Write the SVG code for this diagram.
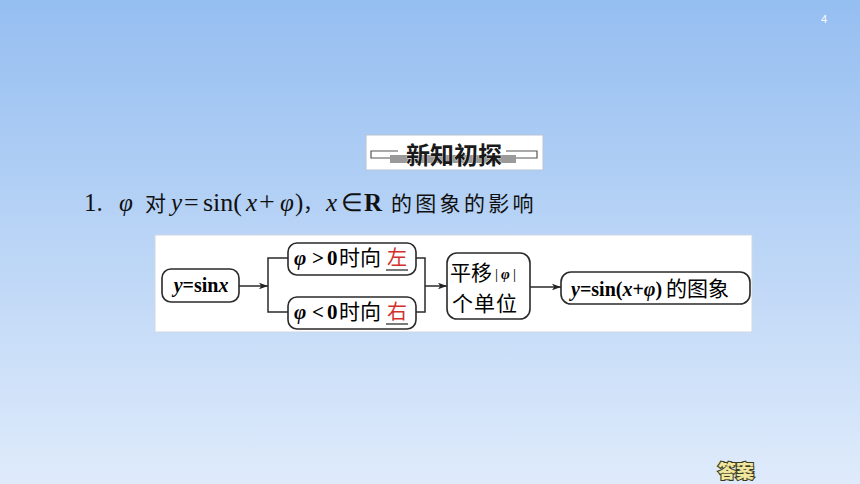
<svg xmlns="http://www.w3.org/2000/svg" width="860" height="484" viewBox="0 0 860 484">
<defs>
<linearGradient id="bg" x1="0" y1="0" x2="0" y2="1">
<stop offset="0" stop-color="#95bef1"/>
<stop offset="1" stop-color="#dfebfb"/>
</linearGradient>
<marker id="ah" viewBox="0 0 10 10" refX="10" refY="5" markerWidth="9" markerHeight="9" markerUnits="userSpaceOnUse" orient="auto">
<path d="M0,1.5 L10,5 L0,8.5 L2.5,5 Z" fill="#222"/>
</marker>
<style>
.box{fill:#fff;stroke:#2a2a2a;stroke-width:1.6}
.ln{fill:none;stroke:#2a2a2a;stroke-width:1.5}
.m{font-family:"Liberation Serif",serif;font-weight:bold}
.s{font-family:"Liberation Serif",serif}
.i{font-style:italic}
.c{font-family:"Noto Sans CJK SC",sans-serif}
.red{fill:#d2302b}
</style>
</defs>
<rect x="0" y="0" width="860" height="484" fill="url(#bg)"/>
<text x="824" y="23" font-family="Liberation Sans,sans-serif" font-size="11" fill="#fff" text-anchor="middle">4</text>

<g id="header">
<rect x="366" y="135" width="177" height="35" fill="#fff" stroke="#b8c4d4" stroke-width="1"/>
<rect x="390" y="155" width="126" height="8" fill="#9a9a9a"/>
<path d="M398,151 H371 V158 H390 M506,151 H537 V158 H516" fill="none" stroke="#555" stroke-width="1.2"/>
<text x="454" y="164" font-family="Noto Sans CJK SC,sans-serif" font-weight="bold" font-size="24" text-anchor="middle" fill="#1a1a1a" stroke="#fff" stroke-width="0.6" paint-order="stroke">新知初探</text>
</g>

<g id="title" font-size="25" fill="#111">
<text y="211"><tspan x="84" class="s">1.</tspan><tspan x="119" class="s i">φ</tspan><tspan x="145" class="c" font-size="21">对</tspan><tspan x="171" class="s i">y</tspan><tspan x="184" class="s" font-size="26">=</tspan><tspan x="203" class="s" font-size="26">sin(</tspan><tspan x="246" class="s i">x</tspan><tspan x="259" class="s" font-size="28">+</tspan><tspan x="280" class="s i">φ</tspan><tspan x="295" class="s">)</tspan><tspan x="303" class="c" font-size="20">，</tspan><tspan x="326" class="s i">x</tspan><tspan x="341" class="s">∈</tspan><tspan x="364" class="s" font-weight="bold">R</tspan><tspan x="391" class="c" font-size="21" letter-spacing="3.3">的图象的影响</tspan></text>
</g>

<rect id="panel" x="155" y="235" width="597" height="97" fill="#fff" stroke="#d0d8e4" stroke-width="1"/>

<g id="connectors">
<line class="ln" x1="239" y1="286" x2="268" y2="286" marker-end="url(#ah)"/>
<path class="ln" d="M288,258 H268 V312 H288"/>
<path class="ln" d="M416,258 H425 V312 H416"/>
<line class="ln" x1="425" y1="286" x2="447" y2="286" marker-end="url(#ah)"/>
<line class="ln" x1="530" y1="287" x2="561" y2="287" marker-end="url(#ah)"/>
</g>

<g id="n1">
<rect class="box" x="162" y="269" width="77" height="33" rx="9"/>
<text x="201" y="292" font-size="20" text-anchor="middle" class="m"><tspan class="i">y</tspan>=sin<tspan class="i">x</tspan></text>
</g>

<g id="n2">
<rect class="box" x="288" y="243" width="128" height="32" rx="9"/>
<text y="265" font-size="21"><tspan x="294" class="m i">φ</tspan><tspan x="312" class="m">&gt;</tspan><tspan x="327" class="m">0</tspan><tspan x="339" class="c" font-size="21">时向</tspan><tspan x="387" class="c red" font-size="20">左</tspan></text>
<line x1="386" y1="270" x2="408" y2="270" stroke="#222" stroke-width="1.2"/>
</g>

<g id="n3">
<rect class="box" x="288" y="297" width="128" height="32" rx="9"/>
<text y="319" font-size="21"><tspan x="294" class="m i">φ</tspan><tspan x="312" class="m">&lt;</tspan><tspan x="327" class="m">0</tspan><tspan x="339" class="c" font-size="21">时向</tspan><tspan x="387" class="c red" font-size="20">右</tspan></text>
<line x1="386" y1="324" x2="408" y2="324" stroke="#222" stroke-width="1.2"/>
</g>

<g id="n4">
<rect class="box" x="447" y="253" width="83" height="66" rx="10"/>
<text x="450" y="280" font-size="21" class="c">平移</text>
<text y="279" font-size="15"><tspan x="495" class="s">|</tspan><tspan x="501" class="m i">φ</tspan><tspan x="513" class="s">|</tspan></text>
<text x="452" y="311" font-size="21" class="c" letter-spacing="1">个单位</text>
</g>

<g id="n5">
<rect class="box" x="561" y="272" width="189" height="32" rx="10"/>
<text y="296" font-size="20"><tspan x="571" class="m i">y</tspan><tspan class="m">=sin(</tspan><tspan class="m i">x</tspan><tspan class="m">+</tspan><tspan class="m i">φ</tspan><tspan class="m">)</tspan></text>
<text x="666" y="296" class="c" font-size="21">的图象</text>
</g>

<g id="answer">
<text x="736" y="478" font-family="Noto Sans CJK SC,sans-serif" font-weight="900" font-size="18" text-anchor="middle" fill="#f0e6a0" stroke="#3a3a20" stroke-width="2.2" paint-order="stroke">答案</text>
</g>
</svg>
